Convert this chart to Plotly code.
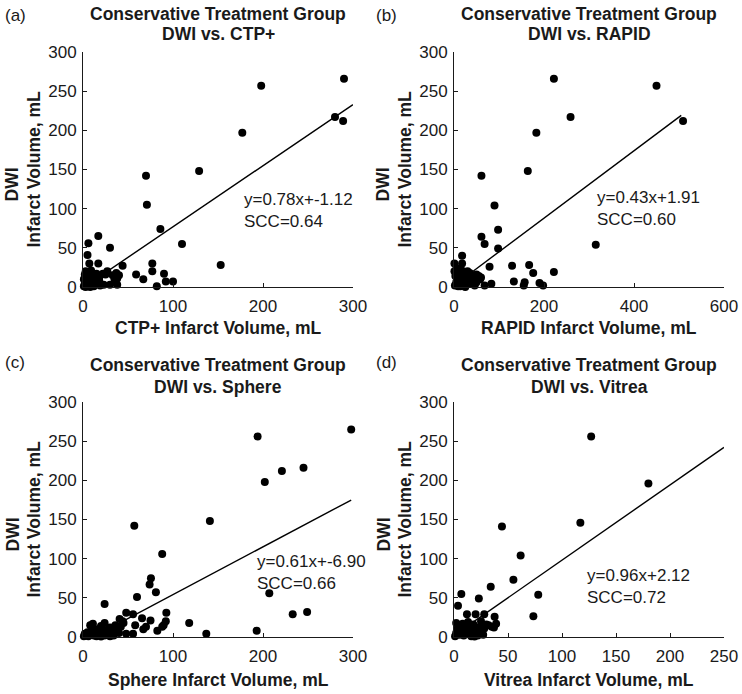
import plotly.graph_objects as go

W, H = 742, 694

# ---- data ----
# (a) DWI vs. CTP+
ctp_x = [290, 289, 280, 198, 177, 129, 70, 71, 86, 110, 153, 6, 5, 17, 30, 7, 17, 44, 77, 77,
         59, 67, 90, 92, 100, 82, 27, 37, 38, 38, 30, 23,
         1, 2, 3, 1, 4, 2, 5, 6, 7, 8, 9, 10, 6, 11, 12, 13, 14, 15, 16, 18, 19, 3, 8, 12,
         18, 22, 25, 33, 35, 36, 40, 3, 9]
ctp_y = [266, 212, 217, 257, 197, 148, 142, 105, 74, 55, 28, 56, 41, 65, 50, 30, 30, 27, 30, 20,
         16, 10, 17, 7, 7, 1, 20, 18, 11, 3, 3, 3,
         1, 4, 7, 10, 13, 16, 2, 5, 9, 12, 15, 18, 18, 3, 6, 10, 14, 17, 4, 8, 2, 0, 0, 1,
         12, 17, 16, 15, 10, 6, 15, 20, 21]

# (b) DWI vs. RAPID
rapid_x = [222, 450, 259, 509, 183, 164, 61, 90, 98, 61, 68, 98, 315, 18, 1, 18, 79, 129, 167, 176,
           222, 133, 155, 157, 83, 190, 198, 68, 46,
           2, 5, 8, 3, 10, 1, 12, 15, 20, 25, 30, 35, 40, 45, 50, 55, 60, 14, 22, 28, 33, 38,
           42, 25, 6, 16, 50, 58, 30, 9]
rapid_y = [266, 257, 217, 212, 197, 148, 142, 104, 73, 64, 55, 49, 54, 40, 30, 30, 26, 27, 28, 18,
           19, 7, 2, 6, 4, 5, 2, 2, 2,
           2, 6, 10, 14, 18, 20, 3, 8, 12, 16, 20, 18, 15, 12, 16, 14, 12, 1, 5, 9, 4, 8,
           6, 0, 24, 22, 6, 10, 13, 1]

# (c) DWI vs. Sphere
sphere_x = [298, 194, 202, 221, 245, 141, 57, 88, 75.5, 74, 81, 60, 207, 24, 233, 249, 118, 137, 193,
            92.6, 92, 89.6, 88, 65.6, 75, 67, 70, 82.6, 58, 48, 55.6, 48, 55.6, 40.7, 45,
            1, 2, 3, 5, 6, 8, 8, 10, 11, 12, 14, 16, 18, 20, 22, 24, 24, 26, 28, 30, 32, 34,
            36, 38, 40, 42, 44, 15, 30, 20]
sphere_y = [265, 256, 198, 212, 216, 148, 142, 106, 75, 67, 57, 51, 56, 42, 29, 32, 18, 4, 8,
            31, 20, 15, 13, 24, 21, 10, 13, 8, 15, 31, 29, 4, 4, 23, 18,
            1, 4, 2, 6, 1, 3, 15, 8, 17, 2, 5, 10, 3, 14, 6, 2, 18, 9, 4, 12, 7, 2,
            15, 9, 5, 13, 20, 1, 1, 0.5]

# (d) DWI vs. Vitrea
vitrea_x = [127, 180, 117, 44.4, 61.7, 55, 34, 6.8, 78, 23, 3.7, 73.5, 12, 20, 28, 37.6, 39, 37, 25,
            1, 2, 3, 4, 2, 5, 6, 7, 8, 9, 10, 11, 12, 13, 14, 15, 16, 17, 18, 20, 21, 22, 24,
            26, 28, 30, 32, 35, 27, 19]
vitrea_y = [256, 196, 146, 141, 104, 73, 64, 55, 54, 49, 40, 26.5, 29, 29, 29, 26, 17, 12, 20,
            1, 5, 10, 15, 18, 3, 8, 12, 17, 2, 6, 10, 14, 19, 4, 8, 1, 12, 16, 5, 9, 2, 13,
            7, 11, 16, 15, 13, 3, 0.5]

panel_labels = ["(a)", "(b)", "(c)", "(d)"]
titles = ["DWI vs. CTP+", "DWI vs. RAPID", "DWI vs. Sphere", "DWI vs. Vitrea"]
x_titles = ["CTP+ Infarct Volume, mL", "RAPID Infarct Volume, mL",
            "Sphere Infarct Volume, mL", "Vitrea Infarct Volume, mL"]
x_ranges = [300, 600, 300, 250]
x_ticks = [[0, 100, 200, 300], [0, 200, 400, 600], [0, 100, 200, 300],
           [0, 50, 100, 150, 200, 250]]
y_ticks = [0, 50, 100, 150, 200, 250, 300]
fit_slope = [0.78, 0.43, 0.61, 0.96]
fit_icpt = [-1.12, 1.91, -6.90, 2.12]
fit_xmax = [300, 505, 298, 250]
eq_text = ["y=0.78x+-1.12<br>SCC=0.64", "y=0.43x+1.91<br>SCC=0.60",
           "y=0.61x+-6.90<br>SCC=0.66", "y=0.96x+2.12<br>SCC=0.72"]
eq_pos = [(177, 98), (313, 100), (191, 82), (121, 65)]

xs = [ctp_x, rapid_x, sphere_x, vitrea_x]
ys = [ctp_y, rapid_y, sphere_y, vitrea_y]

# plot areas in pixels (left, right, top, bottom)
boxes = [(83, 353, 52, 287), (454, 724, 52, 287),
         (83, 353, 402, 637), (454, 724, 402, 637)]

FONT = "Arial, Liberation Sans, sans-serif"
INK = "#1a1a1a"


def px(x):
    return x / W


def py(y):
    return 1 - y / H


fig = go.Figure()
annotations = []

for i in range(4):
    n = "" if i == 0 else str(i + 1)
    l, r, t, b = boxes[i]

    fig.add_trace(go.Scatter(
        x=[0, fit_xmax[i]],
        y=[fit_icpt[i], fit_slope[i] * fit_xmax[i] + fit_icpt[i]],
        mode="lines", line=dict(color="black", width=1.4),
        xaxis="x" + n, yaxis="y" + n, showlegend=False, hoverinfo="skip"))
    fig.add_trace(go.Scatter(
        x=xs[i], y=ys[i], mode="markers",
        marker=dict(color="black", size=8),
        cliponaxis=False,
        xaxis="x" + n, yaxis="y" + n, showlegend=False))

    axis_common = dict(
        showgrid=False, zeroline=False, showline=True, linecolor=INK, linewidth=1,
        ticks="inside", ticklen=4, tickwidth=1, tickcolor=INK, automargin=False,
        tickfont=dict(family=FONT, size=17, color=INK), mirror=False)
    fig.layout["xaxis" + n] = dict(
        axis_common, domain=[px(l), px(r)], anchor="y" + n, ticklabelstandoff=4,
        range=[0, x_ranges[i]], tickvals=x_ticks[i])
    fig.layout["yaxis" + n] = dict(
        axis_common, domain=[py(b), py(t)], anchor="x" + n, ticklabelstandoff=2,
        range=[0, 300], tickvals=y_ticks)

    cx = (l + r) / 2
    cy = (t + b) / 2
    top = t - 52
    annotations += [
        dict(text=panel_labels[i], x=px(l - 80), y=py(top + 15 if i < 2 else top + 12),
             xanchor="left", yanchor="middle", font=dict(family=FONT, size=17, color=INK)),
        dict(text="<b>Conservative Treatment Group</b>", x=px(cx), y=py(top + 14 if i < 2 else top + 15),
             xanchor="center", yanchor="middle", font=dict(family=FONT, size=17.5, color=INK)),
        dict(text="<b>" + titles[i] + "</b>", x=px(cx), y=py(top + 34 if i < 2 else top + 37),
             xanchor="center", yanchor="middle", font=dict(family=FONT, size=17.5, color=INK)),
        dict(text="<b>" + x_titles[i] + "</b>", x=px(cx), y=py(b + 41 if i < 2 else b + 43),
             xanchor="center", yanchor="middle", font=dict(family=FONT, size=17.5, color=INK)),
        dict(text="<b>Infarct Volume, mL</b>", x=px(l - 50), y=py(cy), textangle=-90,
             xanchor="center", yanchor="middle", font=dict(family=FONT, size=17.5, color=INK)),
        dict(text="<b>DWI</b>", x=px(l - 71), y=py(cy + 15), textangle=-90,
             xanchor="center", yanchor="middle", font=dict(family=FONT, size=17.5, color=INK)),
        dict(text=eq_text[i], x=eq_pos[i][0], y=eq_pos[i][1], xref="x" + n, yref="y" + n,
             xanchor="left", yanchor="middle", align="left",
             font=dict(family=FONT, size=17, color=INK)),
    ]

for a in annotations:
    a.setdefault("xref", "paper")
    a.setdefault("yref", "paper")
    a["showarrow"] = False

fig.update_layout(
    width=W, height=H,
    margin=dict(l=0, r=0, t=0, b=0, autoexpand=False),
    paper_bgcolor="white", plot_bgcolor="white",
    annotations=annotations,
    showlegend=False,
)

# the page body has a default 8px margin; drop it so the figure sits at 0,0
fig.write_html("out.html", config={"displayModeBar": False},
               post_script="document.body.style.margin='0';")
